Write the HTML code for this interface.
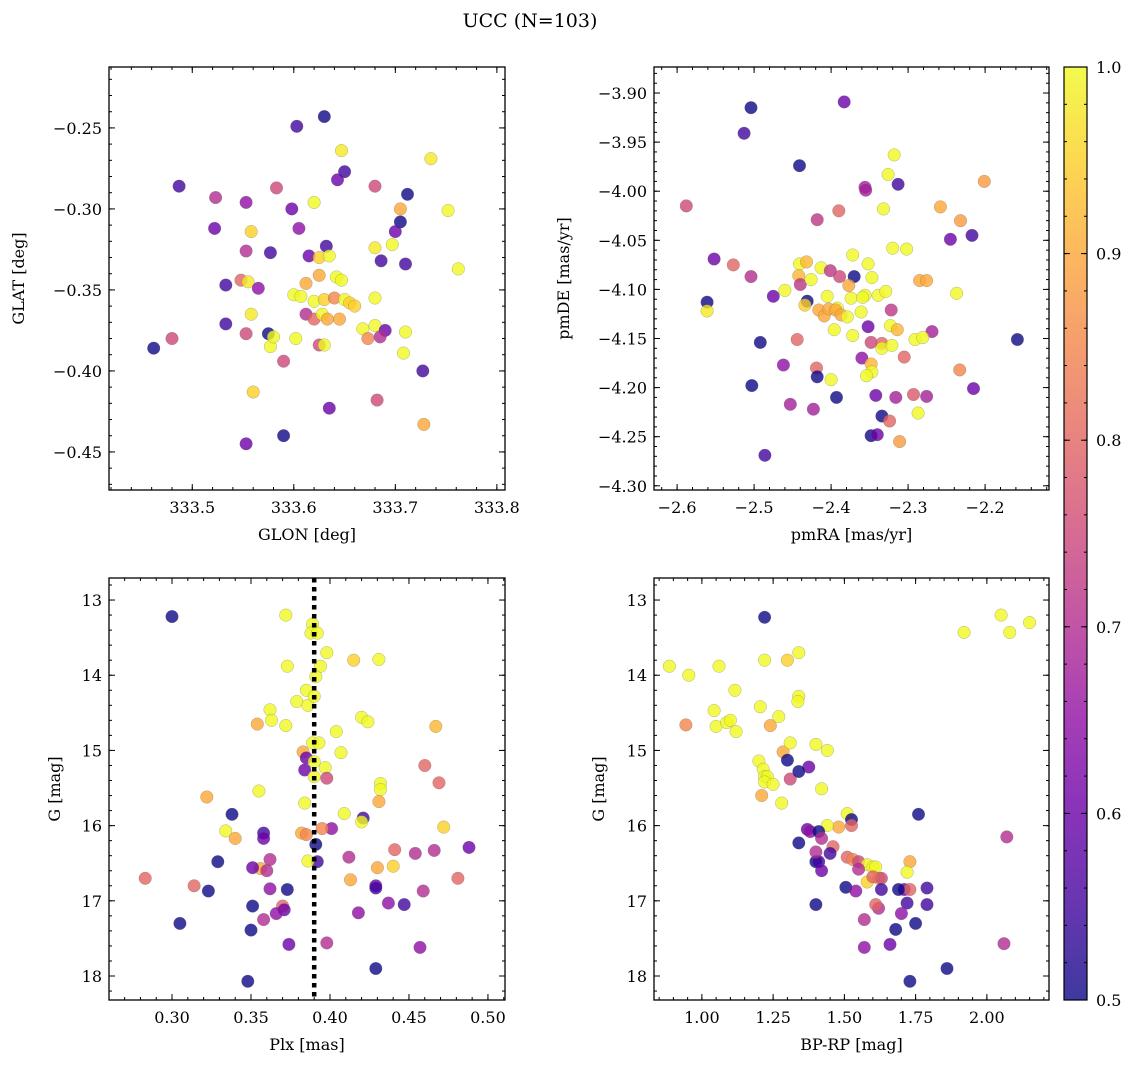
<!DOCTYPE html>
<html><head><meta charset="utf-8"><style>
html,body{margin:0;padding:0;background:#fff}
svg{display:block;font-family:"DejaVu Serif","Liberation Serif",serif}
</style></head><body>
<svg id="chart" width="1136" height="1067" viewBox="0 0 1136 1067" xmlns="http://www.w3.org/2000/svg">
<defs>
<linearGradient id="cbgrad" x1="0" y1="1" x2="0" y2="0">
<stop offset="0" stop-color="#0d0887"/><stop offset="0.1" stop-color="#41049d"/><stop offset="0.2" stop-color="#6a00a8"/><stop offset="0.3" stop-color="#8f0da4"/><stop offset="0.4" stop-color="#b12a90"/><stop offset="0.5" stop-color="#cc4778"/><stop offset="0.6" stop-color="#e16462"/><stop offset="0.7" stop-color="#f2844b"/><stop offset="0.8" stop-color="#fca636"/><stop offset="0.9" stop-color="#fcce25"/><stop offset="1" stop-color="#f0f921"/>
</linearGradient>
</defs>
<text x="530" y="27" font-size="19" text-anchor="middle">UCC (N=103)</text>
</svg>
<script>
// ---- data (value arrays) ----
const glon = [333.63,333.603,333.487,333.523,333.553,333.583,333.647,333.650,333.643,333.735,333.680,333.712,333.705,333.598,333.620,333.752,333.522,333.558,333.605,333.705,333.700,333.553,333.577,333.632,333.680,333.697,333.615,333.625,333.635,333.686,333.710,333.762,333.533,333.548,333.555,333.565,333.600,333.612,333.625,333.642,333.647,333.607,333.620,333.630,333.640,333.650,333.655,333.660,333.680,333.558,333.533,333.553,333.575,333.577,333.580,333.602,333.612,333.620,333.628,333.633,333.625,333.630,333.645,333.668,333.673,333.680,333.690,333.685,333.710,333.708,333.462,333.480,333.590,333.727,333.560,333.682,333.635,333.728,333.553,333.590];
const glat = [-0.243,-0.249,-0.286,-0.293,-0.296,-0.287,-0.264,-0.277,-0.282,-0.269,-0.286,-0.291,-0.300,-0.300,-0.296,-0.301,-0.312,-0.314,-0.312,-0.308,-0.314,-0.326,-0.327,-0.323,-0.324,-0.322,-0.329,-0.330,-0.329,-0.332,-0.334,-0.337,-0.347,-0.344,-0.345,-0.349,-0.353,-0.346,-0.341,-0.342,-0.344,-0.354,-0.357,-0.356,-0.355,-0.356,-0.358,-0.360,-0.355,-0.365,-0.371,-0.377,-0.377,-0.385,-0.379,-0.380,-0.365,-0.368,-0.365,-0.368,-0.384,-0.384,-0.368,-0.374,-0.380,-0.372,-0.375,-0.379,-0.376,-0.389,-0.386,-0.380,-0.394,-0.400,-0.413,-0.418,-0.423,-0.433,-0.445,-0.440];
const probA = [0.5,0.55,0.55,0.7,0.65,0.75,0.98,0.55,0.6,0.98,0.75,0.5,0.9,0.6,1,1,0.6,0.95,0.65,0.5,0.6,0.7,0.55,0.55,0.98,1,0.6,0.95,1,0.55,0.55,1,0.55,0.8,0.98,0.65,1,0.9,0.9,1,1,1,1,0.95,0.85,1,0.95,0.95,1,0.98,0.55,0.75,0.5,1,1,1,0.7,0.8,1,0.9,0.75,1,0.9,1,0.85,1,0.6,0.7,1,1,0.5,0.75,0.75,0.55,0.95,0.75,0.6,0.9,0.6,0.5];

const pmra = [-2.504,-2.513,-2.383,-2.441,-2.588,-2.390,-2.418,-2.552,-2.527,-2.504,-2.561,-2.561,-2.475,-2.460,-2.441,-2.432,-2.413,-2.401,-2.389,-2.442,-2.440,-2.426,-2.372,-2.370,-2.377,-2.431,-2.434,-2.405,-2.416,-2.409,-2.403,-2.392,-2.394,-2.387,-2.379,-2.374,-2.396,-2.372,-2.444,-2.492,-2.462,-2.419,-2.418,-2.400,-2.503,-2.393,-2.453,-2.423,-2.486,
 -2.318,-2.326,-2.313,-2.356,-2.355,-2.201,-2.332,-2.258,-2.232,-2.217,-2.245,-2.320,-2.302,-2.352,-2.347,-2.285,-2.276,-2.356,-2.359,-2.339,-2.329,-2.237,-2.361,-2.322,-2.352,-2.323,-2.314,-2.269,-2.291,-2.281,-2.158,-2.348,-2.334,-2.334,-2.321,-2.360,-2.305,-2.348,-2.347,-2.354,-2.233,-2.215,-2.342,-2.316,-2.293,-2.276,-2.287,-2.334,-2.324,-2.348,-2.340,-2.311];
const pmde = [-3.915,-3.941,-3.909,-3.974,-4.015,-4.020,-4.029,-4.069,-4.075,-4.087,-4.113,-4.122,-4.107,-4.101,-4.074,-4.072,-4.078,-4.081,-4.087,-4.086,-4.095,-4.090,-4.065,-4.087,-4.096,-4.112,-4.116,-4.107,-4.121,-4.127,-4.120,-4.119,-4.121,-4.126,-4.128,-4.109,-4.141,-4.147,-4.151,-4.154,-4.177,-4.180,-4.189,-4.192,-4.198,-4.210,-4.217,-4.222,-4.269,
 -3.963,-3.983,-3.993,-3.996,-3.999,-3.990,-4.018,-4.016,-4.030,-4.045,-4.049,-4.058,-4.059,-4.074,-4.088,-4.091,-4.091,-4.106,-4.108,-4.106,-4.102,-4.104,-4.123,-4.121,-4.138,-4.137,-4.141,-4.143,-4.151,-4.149,-4.151,-4.154,-4.155,-4.160,-4.157,-4.170,-4.169,-4.176,-4.184,-4.188,-4.182,-4.201,-4.208,-4.210,-4.207,-4.209,-4.226,-4.229,-4.234,-4.249,-4.248,-4.255];
const probB = [0.5,0.55,0.6,0.5,0.75,0.8,0.72,0.6,0.8,0.7,0.5,0.98,0.6,1,1,0.92,1,0.72,0.75,0.92,0.72,1,1,0.5,0.9,0.5,0.95,1,0.9,0.9,0.9,1,0.9,0.9,1,1,1,1,0.8,0.5,0.65,0.8,0.5,1,0.5,0.5,0.68,0.68,0.55,
 1,1,0.55,0.68,0.68,0.88,1,0.9,0.88,0.55,0.6,1,1,1,1,0.9,0.9,1,1,1,1,1,1,0.72,0.6,1,0.92,0.68,1,1,0.5,0.75,0.8,1,1,0.65,0.8,0.92,1,1,0.85,0.6,0.6,0.68,0.78,0.68,1,0.5,0.8,0.5,0.6,0.88];

const plx = [0.300,0.372,0.389,0.388,0.392,0.398,0.373,0.394,0.391,0.415,0.431,0.385,0.379,0.386,0.390,0.362,0.354,0.363,0.372,0.420,0.424,0.467,0.389,0.393,0.404,0.383,0.385,0.390,0.384,0.397,0.398,0.390,0.407,0.460,0.469,0.432,0.432,0.355,0.322,0.384,0.431,0.338,0.409,0.421,0.420,0.401,0.395,0.334,0.340,0.358,0.358,0.382,0.385,0.391,0.392,0.386,0.441,0.454,0.466,0.472,0.488,0.412,0.329,0.356,0.351,0.360,0.362,0.430,0.440,0.459,0.481,0.283,0.314,0.323,0.362,0.373,0.413,0.429,0.429,0.447,0.437,0.305,0.351,0.370,0.371,0.366,0.358,0.418,0.350,0.374,0.398,0.457,0.429,0.348];
const gmagC = [13.22,13.20,13.32,13.44,13.44,13.70,13.88,13.88,14.02,13.80,13.79,14.20,14.35,14.40,14.28,14.46,14.65,14.60,14.67,14.56,14.62,14.68,14.90,14.90,14.75,15.02,15.10,15.15,15.26,15.23,15.37,15.35,15.03,15.20,15.43,15.44,15.52,15.54,15.62,15.70,15.68,15.85,15.84,15.90,15.95,16.04,16.04,16.07,16.17,16.10,16.17,16.10,16.12,16.25,16.48,16.47,16.32,16.37,16.33,16.02,16.29,16.42,16.48,16.57,16.56,16.60,16.45,16.56,16.54,16.87,16.70,16.70,16.80,16.87,16.84,16.85,16.72,16.80,16.83,17.05,17.03,17.30,17.07,17.07,17.12,17.17,17.25,17.16,17.39,17.58,17.56,17.62,17.90,18.07];
const probC = [0.5,1,1,1,1,1,1,1,1,0.95,1,1,1,1,1,1,0.9,1,1,1,1,0.92,1,1,1,0.9,0.6,1,0.6,1,0.75,1,1,0.8,0.8,1,1,1,0.9,1,0.9,0.5,1,0.55,1,0.65,0.85,1,0.9,0.55,0.6,0.9,0.85,0.5,0.55,1,0.8,0.7,0.7,0.95,0.6,0.7,0.5,0.9,0.6,0.7,0.7,0.9,0.95,0.7,0.8,0.8,0.8,0.5,0.65,0.5,0.9,0.6,0.55,0.55,0.65,0.5,0.5,0.8,0.6,0.65,0.7,0.65,0.5,0.6,0.7,0.65,0.5,0.5];
const plxMedian = [0.39];

const bprp = [0.886,0.954,0.944,1.06,1.116,1.043,1.05,1.087,1.10,1.12,1.22,1.22,1.30,1.34,1.34,1.337,1.24,1.205,1.27,1.285,1.31,1.20,1.215,1.22,1.23,1.22,1.25,1.21,1.28,1.31,1.40,1.44,1.42,1.375,1.34,1.30,1.51,1.525,1.525,1.48,1.44,1.37,1.38,1.41,1.42,1.34,1.46,1.45,1.51,1.53,1.55,1.58,1.55,1.60,1.61,1.62,1.58,1.63,1.60,1.40,1.41,1.42,1.40,1.505,1.54,1.63,1.71,1.73,1.73,1.72,1.69,1.79,1.76,1.40,1.62,1.61,1.72,1.79,1.70,1.57,1.68,1.75,1.66,1.57,1.73,1.86,2.05,2.08,2.15,1.92,2.07,2.06];
const gmagD = [13.88,14.00,14.66,13.88,14.20,14.47,14.68,14.63,14.60,14.75,13.23,13.80,13.80,13.70,14.28,14.35,14.67,14.42,14.55,15.02,14.90,15.14,15.25,15.35,15.35,15.42,15.45,15.60,15.70,15.38,14.92,15.00,15.51,15.22,15.28,15.13,15.84,15.92,16.00,16.02,16.00,16.05,16.08,16.08,16.17,16.23,16.28,16.37,16.42,16.45,16.48,16.52,16.58,16.55,16.55,16.70,16.75,16.70,16.68,16.48,16.48,16.60,16.35,16.82,16.87,16.85,16.85,16.85,16.48,16.62,16.85,16.83,15.85,17.05,17.10,17.05,17.03,17.05,17.17,17.25,17.38,17.30,17.58,17.62,18.07,17.90,13.20,13.43,13.30,13.43,16.15,17.57];
const probD = [1,1,0.85,1,1,1,1,1,1,1,0.5,1,0.95,1,1,1,0.9,1,1,0.9,1,1,1,1,1,1,1,0.9,1,0.75,1,1,1,0.6,0.5,0.5,1,0.5,0.8,0.9,1,0.6,0.65,0.5,0.7,0.5,0.8,0.55,0.8,0.85,0.75,1,0.7,1,1,0.9,0.95,0.75,0.8,0.5,0.55,0.6,0.7,0.5,0.65,0.55,0.6,0.8,0.9,1,0.5,0.55,0.5,0.5,0.7,0.8,0.55,0.55,0.65,0.7,0.5,0.5,0.6,0.65,0.5,0.5,1,1,1,1,0.7,0.7];

const ticksA_x = [333.5,333.6,333.7,333.8];
const ticksA_y = [-0.25,-0.30,-0.35,-0.40,-0.45];
const ticksB_x = [-2.6,-2.5,-2.4,-2.3,-2.2];
const ticksB_y = [-3.90,-3.95,-4.00,-4.05,-4.10,-4.15,-4.20,-4.25,-4.30];
const ticksC_x = [0.30,0.35,0.40,0.45,0.50];
const ticksG = [13,14,15,16,17,18];
const ticksD_x = [1.00,1.25,1.50,1.75,2.00];
const ticksCB = [0.5,0.6,0.7,0.8,0.9,1.0];

// ---- rendering ----
const NS = "http://www.w3.org/2000/svg";
const svg = document.getElementById('chart');
function mk(tag, attrs, parent){const e=document.createElementNS(NS,tag);for(const k in attrs)e.setAttribute(k,attrs[k]);(parent||svg).appendChild(e);return e;}
const stops=[[0,[13,8,135]],[0.1,[65,4,157]],[0.2,[106,0,168]],[0.3,[143,13,164]],[0.4,[177,42,144]],[0.5,[204,71,120]],[0.6,[225,100,98]],[0.7,[242,132,75]],[0.8,[252,166,54]],[0.9,[252,206,37]],[1,[240,249,33]]];
function plasma(p){let t=(p-0.5)/0.5;t=Math.max(0,Math.min(1,t));for(let i=1;i<stops.length;i++){if(t<=stops[i][0]){const a=stops[i-1],b=stops[i];const f=(t-a[0])/(b[0]-a[0]);const c=a[1].map((v,j)=>Math.round(v+(b[1][j]-v)*f));return `rgb(${c[0]},${c[1]},${c[2]})`;}}return 'rgb(240,249,33)';}
function lin(d0,d1,r0,r1){return v=>r0+(v-d0)/(d1-d0)*(r1-r0);}
function fmt(v,dec){return (v<0?'\u2212':'')+Math.abs(v).toFixed(dec);}

function panel(cfg){
  const {name,L,T,R,B,xd,yd,xt,yt,xminor,yminor,xdec,ydec,xlab,ylab,xs,ys,ps}=cfg;
  const g=mk('g',{});
  
  
  const sx=lin(xd[0],xd[1],L,R), sy=lin(yd[0],yd[1],T,B);
  const pts=mk('g',{},g);
  
  
  for(let i=0;i<xs.length;i++){
    const c=mk('circle',{cx:sx(xs[i]).toFixed(1),cy:sy(ys[i]).toFixed(1),r:6.3,fill:plasma(ps[i]),'fill-opacity':0.8,stroke:'#666','stroke-width':0.4,'stroke-opacity':0.6},pts);
    
    
  }
  if(cfg.vline){
    const vl=mk('line',{x1:sx(cfg.vline),x2:sx(cfg.vline),y1:T,y2:B,stroke:'#000','stroke-width':4.5,'stroke-dasharray':'4.5,4.5'},g);
    
    
  }
  const frame=mk('rect',{x:L,y:T,width:R-L,height:B-T,fill:'none',stroke:'#000','stroke-width':1.3},g);
  
  
  const ax=mk('g',{stroke:'#000','stroke-width':1},g);
  
  
  const xlo=Math.min(...xd),xhi=Math.max(...xd),ylo=Math.min(...yd),yhi=Math.max(...yd);
  for(let v=Math.ceil(xlo/xminor)*xminor;v<=xhi;v+=xminor){const x=sx(v);mk('line',{x1:x,x2:x,y1:B,y2:B-3},ax);mk('line',{x1:x,x2:x,y1:T,y2:T+3},ax);}
  for(let v=Math.ceil(ylo/yminor)*yminor;v<=yhi;v+=yminor){const y=sy(v);mk('line',{x1:L,x2:L+3,y1:y,y2:y},ax);mk('line',{x1:R,x2:R-3,y1:y,y2:y},ax);}
  xt.forEach(v=>{const x=sx(v);mk('line',{x1:x,x2:x,y1:B,y2:B-6},ax);mk('line',{x1:x,x2:x,y1:T,y2:T+6},ax);
    const t=mk('text',{x:x,y:B+23,'font-size':16,'text-anchor':'middle'},g);t.textContent=fmt(v,xdec);
    
    });
  yt.forEach(v=>{const y=sy(v);mk('line',{x1:L,x2:L+6,y1:y,y2:y},ax);mk('line',{x1:R,x2:R-6,y1:y,y2:y},ax);
    const t=mk('text',{x:L-7,y:y+6,'font-size':16,'text-anchor':'end'},g);t.textContent=fmt(v,ydec);
    
    });
  const xl=mk('text',{x:(L+R)/2,y:B+50,'font-size':16,'text-anchor':'middle'},g);xl.textContent=xlab;
  
  
  const yx=cfg.ylabX, yy=(T+B)/2;
  const yl=mk('text',{x:yx,y:yy,'font-size':16,'text-anchor':'middle',transform:`rotate(-90 ${yx} ${yy})`},g);yl.textContent=ylab;
  
  
}

panel({name:'glon-glat-panel',L:109,T:67,R:505,B:490,xd:[333.418,333.808],yd:[-0.2124,-0.4735],xt:ticksA_x,yt:ticksA_y,xminor:0.02,yminor:0.01,xdec:1,ydec:2,xlab:'GLON [deg]',ylab:'GLAT [deg]',ylabX:24,xs:glon,ys:glat,ps:probA});
panel({name:'pm-panel',L:654,T:67,R:1049,B:490,xd:[-2.630,-2.117],yd:[-3.8735,-4.3043],xt:ticksB_x,yt:ticksB_y,xminor:0.02,yminor:0.01,xdec:1,ydec:2,xlab:'pmRA [mas/yr]',ylab:'pmDE [mas/yr]',ylabX:569,xs:pmra,ys:pmde,ps:probB});
panel({name:'plx-g-panel',L:109,T:578,R:505,B:1000,xd:[0.2601,0.5108],yd:[12.707,18.319],xt:ticksC_x,yt:ticksG,xminor:0.01,yminor:0.2,xdec:2,ydec:0,xlab:'Plx [mas]',ylab:'G [mag]',ylabX:60,xs:plx,ys:gmagC,ps:probC,vline:plxMedian[0]});
panel({name:'cmd-panel',L:654,T:578,R:1049,B:1000,xd:[0.832,2.218],yd:[12.707,18.319],xt:ticksD_x,yt:ticksG,xminor:0.05,yminor:0.2,xdec:2,ydec:0,xlab:'BP-RP [mag]',ylab:'G [mag]',ylabX:604,xs:bprp,ys:gmagD,ps:probD});

// colorbar
const cb=mk('g',{});


mk('rect',{x:1064,y:67,width:23,height:933,fill:'url(#cbgrad)','fill-opacity':0.8},cb);
mk('rect',{x:1064,y:67,width:23,height:933,fill:'none',stroke:'#000','stroke-width':1.2},cb);
const cbs=lin(0.5,1.0,1000,67);
for(let v=0.5;v<=1.0001;v+=0.02){const y=cbs(v);mk('line',{x1:1087,x2:1084,y1:y,y2:y,stroke:'#000'},cb);mk('line',{x1:1064,x2:1067,y1:y,y2:y,stroke:'#000'},cb);}
ticksCB.forEach(v=>{const y=cbs(v);mk('line',{x1:1087,x2:1081,y1:y,y2:y,stroke:'#000'},cb);mk('line',{x1:1064,x2:1070,y1:y,y2:y,stroke:'#000'},cb);
  const t=mk('text',{x:1096,y:y+6,'font-size':16},cb);t.textContent=v.toFixed(1);
  
  });
</script>
</body></html>
